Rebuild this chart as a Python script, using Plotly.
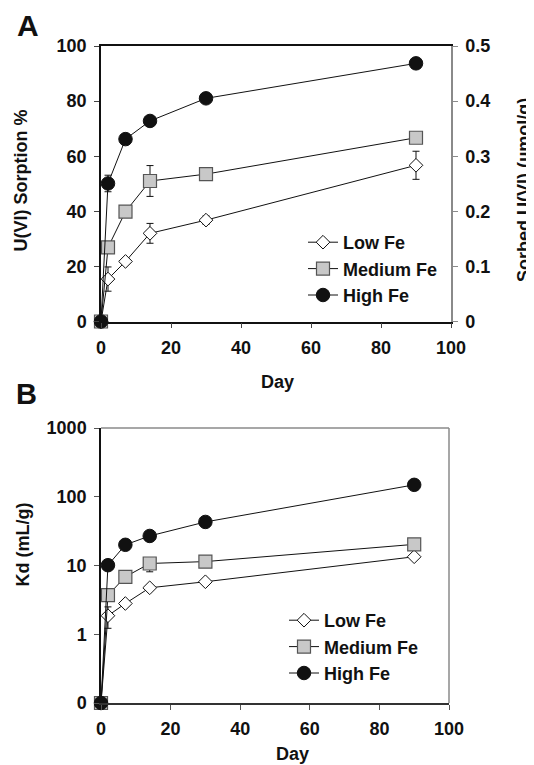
import plotly.graph_objects as go

# ---------------- data ----------------
days = [0, 2, 7, 14, 30, 90]

sorption_low = [0, 15.4, 21.8, 32.0, 36.8, 56.7]
sorption_low_err = [0, 4.4, 1.0, 3.6, 1.5, 5.1]
sorption_med = [0, 26.9, 39.9, 51.0, 53.5, 66.7]
sorption_med_err = [0, 2.0, 1.0, 5.6, 1.0, 1.0]
sorption_high = [0, 50.1, 66.2, 72.8, 81.0, 93.7]
sorption_high_err = [0, 3.0, 1.0, 1.0, 1.0, 1.0]

kd_low = [0, 1.86, 2.8, 4.74, 5.8, 13.4]
kd_low_err_plus = [0, 0.64, 0.2, 0.4, 0.3, 1.0]
kd_low_err_minus = [0, 0.64, 0.2, 0.4, 0.3, 1.0]
kd_med = [0, 3.7, 6.85, 10.7, 11.4, 20.3]
kd_med_err_plus = [0, 0.3, 0.3, 1.0, 0.5, 0.5]
kd_med_err_minus = [0, 0.3, 0.3, 2.6, 0.5, 0.5]
kd_high = [0, 10.1, 20.0, 26.9, 43.0, 149.0]

series_names = ["Low Fe", "Medium Fe", "High Fe"]
x_ticks = [0, 20, 40, 60, 80, 100]
sorption_ticks = [0, 20, 40, 60, 80, 100]
sorbed_ticks = [0, 0.1, 0.2, 0.3, 0.4, 0.5]
sorbed_ticktext = ["0", "0.1", "0.2", "0.3", "0.4", "0.5"]
kd_tickvals = [0.1, 1, 10, 100, 1000]
kd_ticktext = ["0", "1", "10", "100", "1000"]
UMOL_PER_PERCENT = 0.005  # 100 % sorption == 0.5 umol/g
KD_AXIS_ZERO = 0.1        # bottom of the log axis, labelled "0"

# ---------------- styles ----------------
PAGE_W, PAGE_H = 534, 765
BODY_MARGIN = 8                      # default page margin around the figure div
W, H = PAGE_W - BODY_MARGIN, PAGE_H - BODY_MARGIN
FONT = "Liberation Sans"
BLACK = "#111111"
GRAY = "#8a8a8a"

styles = [
    dict(symbol="diamond", size=10.5, color="white", line=dict(color=BLACK, width=1)),
    dict(symbol="square", size=13, color="#c8c8c8", line=dict(color="#555555", width=1.2)),
    dict(symbol="circle", size=13.5, color=BLACK, line=dict(color=BLACK, width=1)),
]


def px_x(p):
    return (p - BODY_MARGIN) / W


def px_y(p):
    return 1 - (p - BODY_MARGIN) / H


fig = go.Figure()

sorp = [sorption_low, sorption_med, sorption_high]
sorp_err = [sorption_low_err, sorption_med_err, sorption_high_err]
for name, vals, err, st in zip(series_names, sorp, sorp_err, styles):
    fig.add_trace(go.Scatter(
        x=days, y=vals, name=name, mode="lines+markers",
        line=dict(color=BLACK, width=1), marker=st,
        error_y=dict(type="data", array=err, color=BLACK, thickness=1, width=3.5),
        xaxis="x", yaxis="y", legend="legend", cliponaxis=False,
    ))

# secondary scale (umol/g) – invisible carrier so the right axis is drawn
fig.add_trace(go.Scatter(
    x=days, y=[v * UMOL_PER_PERCENT for v in sorption_high], mode="markers",
    marker=dict(opacity=0), showlegend=False, hoverinfo="skip",
    xaxis="x", yaxis="y3",
))

kds = [kd_low, kd_med, kd_high]
kd_errs = [(kd_low_err_plus, kd_low_err_minus), (kd_med_err_plus, kd_med_err_minus), (None, None)]
for name, vals, (ep, em), st in zip(series_names, kds, kd_errs, styles):
    yv = [v if v > 0 else KD_AXIS_ZERO for v in vals]
    ey = dict(type="data", array=ep, arrayminus=em, color=BLACK, thickness=1, width=3.5) if ep else None
    fig.add_trace(go.Scatter(
        x=days, y=yv, name=name, mode="lines+markers",
        line=dict(color=BLACK, width=1), marker=st,
        error_y=ey,
        xaxis="x2", yaxis="y2", legend="legend2", cliponaxis=False,
    ))

tickfont = dict(family=FONT, size=18, color=BLACK, weight="bold")
common_ax = dict(showgrid=False, zeroline=False, ticks="outside", ticklen=5,
                 tickfont=tickfont, showline=True, automargin=False,
                 ticklabelstandoff=4)

xA = [px_x(101), px_x(451)]
yA = [px_y(321.5), px_y(46)]
xB = [px_x(101), px_x(449)]
yB = [px_y(703), px_y(428)]

legend_font = dict(family=FONT, size=18, color=BLACK, weight="bold")

fig.update_layout(
    template="none",
    width=W, height=H, margin=dict(l=0, r=0, t=0, b=0, pad=0, autoexpand=False),
    paper_bgcolor="white", plot_bgcolor="white",
    font=dict(family=FONT, size=18, color=BLACK, weight="bold"),
    xaxis=dict(domain=xA, anchor="y", range=[0, 100], tickvals=x_ticks,
               linecolor=BLACK, linewidth=1.5, tickcolor="#444", mirror=True, **common_ax),
    yaxis=dict(domain=yA, anchor="x", range=[0, 100], tickvals=sorption_ticks,
               linecolor=BLACK, linewidth=1.5, tickcolor="#444", **common_ax),
    yaxis3=dict(overlaying="y", side="right", anchor="x", range=[0, 0.5],
                tickvals=sorbed_ticks, ticktext=sorbed_ticktext,
                linecolor=GRAY, linewidth=1.5, tickcolor=GRAY, **common_ax),
    xaxis2=dict(domain=xB, anchor="y2", range=[0, 100], tickvals=x_ticks,
                linecolor="#333", linewidth=1.5, tickcolor="#555", **common_ax),
    yaxis2=dict(domain=yB, anchor="x2", type="log", range=[-1, 3],
                tickvals=kd_tickvals, ticktext=kd_ticktext,
                linecolor=BLACK, linewidth=1.5, tickcolor="#555", **common_ax),
    legend=dict(x=px_x(303), y=px_y(224), xanchor="left", yanchor="top",
                bgcolor="rgba(0,0,0,0)", borderwidth=0, itemsizing="trace",
                font=legend_font),
    legend2=dict(x=px_x(284), y=px_y(602), xanchor="left", yanchor="top",
                 bgcolor="rgba(0,0,0,0)", borderwidth=0, itemsizing="trace",
                 font=legend_font),
    shapes=[
        dict(type="line", xref="x2 domain", yref="y2 domain", x0=0, x1=1, y0=1, y1=1,
             line=dict(color=GRAY, width=1.5)),
        dict(type="line", xref="x2 domain", yref="y2 domain", x0=1, x1=1, y0=0, y1=1,
             line=dict(color=GRAY, width=1.5)),
    ],
)

ann_font = dict(family=FONT, size=18, color=BLACK, weight="bold")
annotations = [
    dict(text="U(VI) Sorption %", x=px_x(20.5), y=px_y(181), textangle=-90),
    dict(text="Sorbed U(VI) (µmol/g)", x=px_x(524), y=px_y(190), textangle=-90),
    dict(text="Day", x=px_x(277), y=px_y(382)),
    dict(text="Kd (mL/g)", x=px_x(22.5), y=px_y(545), textangle=-90),
    dict(text="Day", x=px_x(292), y=px_y(754)),
    dict(text="A", x=px_x(27.5), y=px_y(26), font=dict(family=FONT, size=30, color=BLACK, weight="bold")),
    dict(text="B", x=px_x(27), y=px_y(394), font=dict(family=FONT, size=29, color=BLACK, weight="bold")),
]
for a in annotations:
    a.setdefault("font", ann_font)
    fig.add_annotation(xref="paper", yref="paper", xanchor="center", yanchor="middle",
                       showarrow=False, **a)

fig.write_html("out.html")
